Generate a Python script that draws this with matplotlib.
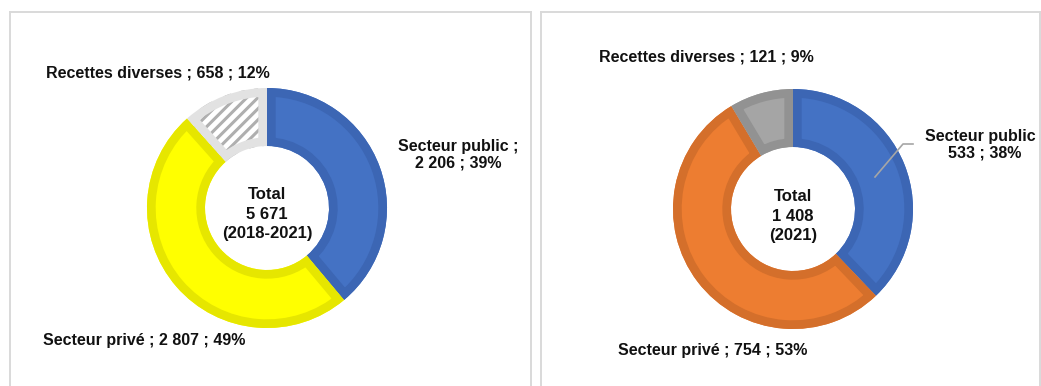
import matplotlib.pyplot as plt
from matplotlib.patches import Wedge

plt.rcParams['font.family'] = ['Liberation Sans', 'DejaVu Sans']
plt.rcParams['hatch.linewidth'] = 2.2

# sources de financement
categories = ["Secteur public", "Secteur privé", "Recettes diverses"]

values_total = [2206, 2807, 658]
pct_total = [39, 49, 12]
period_total = "2018-2021"

values_2021 = [533, 754, 121]
pct_2021 = [38, 53, 9]
period_2021 = "2021"

fill_total = ["#4472C4", "#FFFF00", "#FFFFFF"]
edge_total = ["#3C66B4", "#E6E600", "#E2E2E2"]
fill_2021 = ["#4472C4", "#ED7D31", "#A5A5A5"]
edge_2021 = ["#3C66B4", "#D46F2B", "#929292"]

W, H = 1041, 386
TXT = "#111111"


def fmt(v):
    return f"{v:,}".replace(",", " ")


def donut(ax, values, fills, edges, center, hatch_idx=None):
    R, hole = 120, 62
    wedges, _ = ax.pie(values, colors=fills, startangle=90, counterclock=False,
                       radius=R, center=center,
                       wedgeprops=dict(width=R - hole, linewidth=0))
    for i, w in enumerate(wedges):
        if i == hatch_idx:
            w.set_edgecolor("#AFAFAF")
            w.set_hatch("///")
            w.set_linewidth(0)
        # bordure intérieure (coupée au secteur)
        border = Wedge(center, R, w.theta1, w.theta2, width=R - hole,
                       facecolor="none", edgecolor=edges[i], linewidth=12.5)
        ax.add_patch(border)
        border.set_clip_path(w)
    return wedges


def panel(x0, x1):
    return fig.add_axes([x0 / W, 0, (x1 - x0) / W, (H - 12) / H])


def finish(ax, x0, x1):
    ax.set_xlim(0, x1 - x0)
    ax.set_ylim(0, H - 12)
    ax.set_aspect("equal")
    ax.set_frame_on(True)
    ax.set_xticks([])
    ax.set_yticks([])
    for side, sp in ax.spines.items():
        sp.set_color("#D9D9D9")
        sp.set_linewidth(1.4)
        sp.set_visible(side != "bottom")


fig = plt.figure(figsize=(W / 100, H / 100), dpi=100)
fs = 11.5
fc = 12

# --- panneau gauche : cumul 2018-2021
x0, x1 = 10, 531
ax = panel(x0, x1)
c = (257, 178)
donut(ax, values_total, fill_total, edge_total, c, hatch_idx=2)
finish(ax, x0, x1)
ax.text(c[0], 172, f"Total\n{fmt(sum(values_total))}\n({period_total})",
        ha="center", va="center", fontsize=fc, fontweight="bold", color=TXT,
        linespacing=1.35)
ax.text(148, 313, f"{categories[2]} ; {fmt(values_total[2])} ; {pct_total[2]}%",
        ha="center", va="center", fontsize=fs, fontweight="bold", color=TXT)
ax.text(448, 231, f"{categories[0]} ;\n{fmt(values_total[0])} ; {pct_total[0]}%",
        ha="center", va="center", fontsize=fs, fontweight="bold", color=TXT,
        linespacing=1.1)
ax.text(134, 45, f"{categories[1]} ; {fmt(values_total[1])} ; {pct_total[1]}%",
        ha="center", va="center", fontsize=fs, fontweight="bold", color=TXT)

# --- panneau droit : 2021
x0, x1 = 541, 1040
ax = panel(x0, x1)
c = (252, 177)
donut(ax, values_2021, fill_2021, edge_2021, c)
finish(ax, x0, x1)
ax.text(c[0], 170, f"Total\n{fmt(sum(values_2021))}\n({period_2021})",
        ha="center", va="center", fontsize=fc, fontweight="bold", color=TXT,
        linespacing=1.35)
ax.text(165, 329, f"{categories[2]} ; {fmt(values_2021[2])} ; {pct_2021[2]}%",
        ha="center", va="center", fontsize=fs, fontweight="bold", color=TXT)
ax.plot([334, 362, 372], [209, 242, 242], color="#A6A6A6", lw=1.2)
ax.text(444, 241, f"{categories[0]} ;\n{fmt(values_2021[0])} ; {pct_2021[0]}%",
        ha="center", va="center", fontsize=fs, fontweight="bold", color=TXT,
        linespacing=1.1, clip_on=True)
ax.text(172, 36, f"{categories[1]} ; {fmt(values_2021[1])} ; {pct_2021[1]}%",
        ha="center", va="center", fontsize=fs, fontweight="bold", color=TXT)

fig.savefig("out.png", dpi=100)
